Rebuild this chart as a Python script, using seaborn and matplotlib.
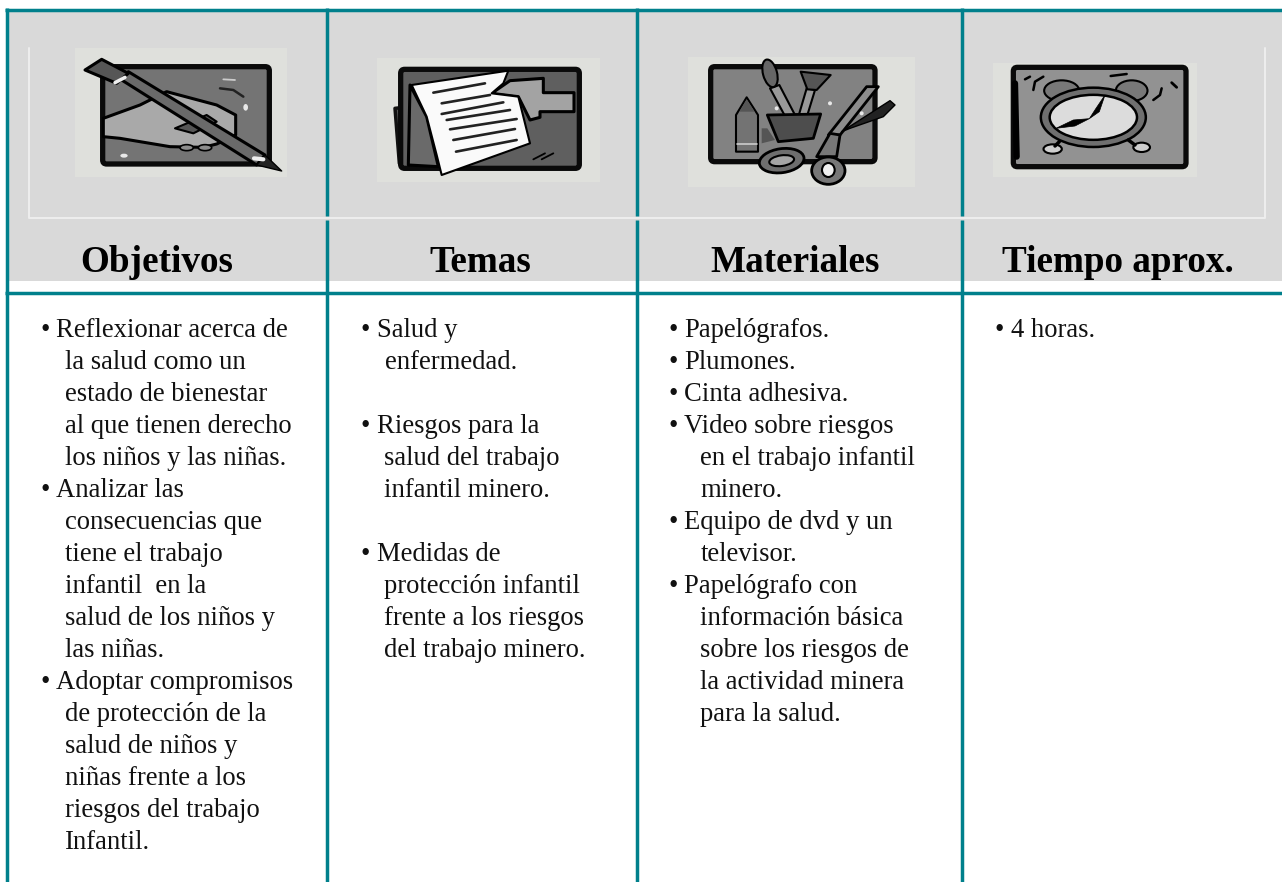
import matplotlib
matplotlib.use('Agg')
import matplotlib.pyplot as plt
from matplotlib.patches import Rectangle, Polygon, Ellipse, FancyBboxPatch
import pandas as pd
import seaborn as sns

# Contenido de la tabla
headers = ['Objetivos', 'Temas', 'Materiales', 'Tiempo aprox.']

objetivos = ['• Reflexionar acerca de', 'la salud como un', 'estado de bienestar',
             'al que tienen derecho', 'los niños y las niñas.', '• Analizar las',
             'consecuencias que', 'tiene el trabajo', 'infantil  en la',
             'salud de los niños y', 'las niñas.', '• Adoptar compromisos',
             'de protección de la', 'salud de niños y', 'niñas frente a los',
             'riesgos del trabajo', 'Infantil.']
temas = ['• Salud y', 'enfermedad.', '', '• Riesgos para la', 'salud del trabajo',
         'infantil minero.', '', '• Medidas de', 'protección infantil',
         'frente a los riesgos', 'del trabajo minero.']
materiales = ['• Papelógrafos.', '• Plumones.', '• Cinta adhesiva.', '• Video sobre riesgos',
              'en el trabajo infantil', 'minero.', '• Equipo de dvd y un', 'televisor.',
              '• Papelógrafo con', 'información básica', 'sobre los riesgos de',
              'la actividad minera', 'para la salud.']
tiempo = ['• 4 horas.']
columns = [objetivos, temas, materiales, tiempo]

TEAL = '#00808c'
GRAY = '#d9d9d9'
LIGHT = '#dfe0dc'
W, H = 1282, 882


def rules_table():
    # x, y de cada filete de la tabla
    segs = {'top': ([5, W], [9.5, 9.5]), 'mid': ([5, W], [293, 293]),
            'v0': ([6.5, 6.5], [8, H]),
            'v1a': ([326.5, 326.5], [8, 215.5]), 'v1b': ([326.5, 326.5], [220, H]),
            'v2a': ([636.5, 636.5], [8, 215.5]), 'v2b': ([636.5, 636.5], [220, H]),
            'v3a': ([961.5, 961.5], [8, 215.5]), 'v3b': ([961.5, 961.5], [220, H])}
    rows = []
    for name, (xs, ys) in segs.items():
        for x, y in zip(xs, ys):
            rows.append({'rule': name, 'x': x, 'y': y})
    return pd.DataFrame(rows)


def mapper(ox, oy):
    # las coordenadas de los iconos se tomaron del recorte ampliado 3x
    return lambda pts: [(ox + a / 3, oy + b / 3) for a, b in pts]


def poly(ax, m, pts, fc, ec='black', lw=1.5, z=3):
    ax.add_patch(Polygon(m(pts), closed=True, fc=fc, ec=ec, lw=lw, joinstyle='round', zorder=z))


def ell(ax, m, cx, cy, w, h, fc, ec='black', lw=1.5, ang=0, z=3):
    (x, y), = m([(cx, cy)])
    ax.add_patch(Ellipse((x, y), w / 3, h / 3, angle=ang, fc=fc, ec=ec, lw=lw, zorder=z))


def stroke(ax, m, pts, lw=1.5, color='black', z=4):
    xs, ys = zip(*m(pts))
    ax.plot(xs, ys, color=color, lw=lw, solid_capstyle='round', zorder=z)


def frame(ax, m, x0, y0, x1, y1, fc, lw=3.8):
    (a, b), (c, d) = m([(x0, y0), (x1, y1)])
    ax.add_patch(FancyBboxPatch((a + 4, b + 4), c - a - 8, d - b - 8, boxstyle='round,pad=4',
                                fc=fc, ec='#0a0a0a', lw=lw, zorder=2))


def light_bg(ax, m, x0, y0, x1, y1):
    (a, b), (c, d) = m([(x0, y0), (x1, y1)])
    ax.add_patch(Rectangle((a, b), c - a, d - b, fc=LIGHT, ec='none', zorder=1))


def icon_pencil(ax):
    m = mapper(60, 40)
    light_bg(ax, m, 45, 25, 680, 410)
    frame(ax, m, 128, 80, 628, 372, '#747474')
    poly(ax, m, [(130, 235), (240, 195), (320, 155), (470, 195), (527, 225), (527, 285),
                 (470, 312), (430, 322), (330, 320), (180, 295), (130, 290)], '#a9a9a9', lw=2.2, z=3)
    poly(ax, m, [(345, 265), (440, 225), (470, 245), (400, 280)], '#555555', z=3)
    ell(ax, m, 380, 323, 40, 18, '#8c8c8c', lw=1.2, z=3)
    ell(ax, m, 435, 323, 40, 18, '#8c8c8c', lw=1.2, z=3)
    stroke(ax, m, [(490, 118), (525, 120)], lw=1.3, color='#cccccc')
    stroke(ax, m, [(480, 145), (520, 150), (550, 170)], lw=1.8, color='#222222')
    poly(ax, m, [(185, 120), (205, 95), (615, 345), (590, 375)], '#6a6a6a', lw=2.2, z=4)
    poly(ax, m, [(75, 90), (125, 58), (205, 100), (170, 130)], '#565656', lw=2.2, z=4)
    poly(ax, m, [(590, 375), (615, 345), (665, 393)], '#222222', lw=1, z=5)
    stroke(ax, m, [(165, 128), (195, 112)], lw=2.5, color='#eeeeee', z=5)
    stroke(ax, m, [(582, 355), (610, 358)], lw=3, color='#eeeeee', z=6)
    ell(ax, m, 557, 202, 14, 20, '#e8e8e8', ec='none', lw=0)
    ell(ax, m, 192, 347, 22, 12, '#e8e8e8', ec='none', lw=0)


def icon_paper(ax):
    m = mapper(370, 40)
    light_bg(ax, m, 20, 55, 690, 425)
    poly(ax, m, [(75, 205), (120, 200), (120, 380), (88, 370)], '#555555', ec='#111111', lw=2.5, z=1.5)
    frame(ax, m, 92, 88, 628, 385, '#5f5f5f')
    poly(ax, m, [(120, 135), (115, 375), (205, 380), (170, 230)], '#6a6a6a', ec='black', lw=2.2)
    poly(ax, m, [(365, 160), (420, 122), (520, 115), (520, 158), (612, 158), (612, 215),
                 (510, 215), (510, 232), (480, 240), (445, 170)], '#a3a3a3', lw=2.2)
    poly(ax, m, [(125, 135), (415, 92), (400, 130), (365, 160), (445, 170), (480, 310),
                 (215, 405), (200, 345), (170, 230)], '#fafafa', lw=1.5, z=4)
    text_lines = [[(190, 158), (345, 130)], [(215, 190), (360, 165)], [(215, 222), (400, 187)],
                  [(230, 240), (420, 210)], [(240, 268), (440, 237)], [(250, 300), (435, 267)],
                  [(258, 335), (440, 300)]]
    for seg in text_lines:
        stroke(ax, m, seg, lw=1.9, color='#222222', z=5)
    stroke(ax, m, [(490, 358), (525, 340)], lw=1.3)
    stroke(ax, m, [(515, 358), (550, 340)], lw=1.3)


def icon_tools(ax):
    m = mapper(680, 40)
    light_bg(ax, m, 25, 50, 705, 440)
    frame(ax, m, 92, 80, 585, 365, '#828282')
    # marcador
    poly(ax, m, [(168, 225), (200, 172), (234, 225), (234, 335), (168, 335)], '#737373', lw=1.5)
    poly(ax, m, [(178, 215), (200, 178), (224, 215)], '#555555', ec='none', lw=0)
    stroke(ax, m, [(170, 312), (232, 312)], lw=1.2, color='#cccccc')
    # pinceles
    poly(ax, m, [(316, 230), (270, 145), (298, 135), (345, 225)], '#999999', lw=1.5)
    ell(ax, m, 270, 100, 42, 85, '#666666', lw=1.5, ang=-15)
    poly(ax, m, [(355, 230), (380, 145), (405, 150), (380, 232)], '#999999', lw=1.5)
    poly(ax, m, [(362, 95), (452, 105), (410, 150), (382, 148)], '#555555', lw=1.5)
    # vaso
    poly(ax, m, [(262, 225), (422, 222), (400, 295), (295, 305)], '#4d4d4d', lw=2, z=4)
    poly(ax, m, [(245, 265), (262, 265), (285, 300), (245, 310)], '#555555', ec='none', lw=0)
    # tijeras
    poly(ax, m, [(445, 285), (560, 140), (595, 140), (480, 285)], '#8c8c8c', lw=2, z=4)
    poly(ax, m, [(485, 275), (630, 182), (645, 195), (610, 230), (510, 265)], '#222222', lw=1, z=4)
    poly(ax, m, [(410, 350), (450, 280), (480, 285), (470, 350)], '#777777', lw=2, z=4)
    ell(ax, m, 305, 362, 135, 72, '#6e6e6e', lw=2, ang=-8, z=5)
    ell(ax, m, 305, 362, 75, 32, '#a5a5a5', lw=1.5, ang=-8, z=6)
    ell(ax, m, 445, 392, 100, 82, '#777777', lw=2, z=5)
    ell(ax, m, 445, 390, 38, 42, '#f0f0f0', lw=1.5, z=6)
    for a, b in [(450, 190), (545, 220), (290, 205)]:
        ell(ax, m, a, b, 12, 12, '#e8e8e8', ec='none', lw=0, z=6)


def icon_clock(ax):
    m = mapper(980, 40)
    light_bg(ax, m, 40, 70, 650, 410)
    frame(ax, m, 100, 82, 618, 380, '#929292')
    stroke(ax, m, [(105, 130), (110, 350)], lw=4.5, z=3)
    ell(ax, m, 245, 152, 105, 62, '#787878', lw=1.5)
    ell(ax, m, 455, 152, 95, 62, '#787878', lw=1.5)
    ell(ax, m, 340, 232, 315, 178, '#6f6f6f', lw=1.8, z=4)
    ell(ax, m, 340, 232, 262, 135, '#dcdcdc', lw=1.8, z=5)
    poly(ax, m, [(228, 265), (280, 240), (328, 236), (285, 258)], 'black', lw=0.5, z=6)
    poly(ax, m, [(328, 236), (348, 205), (375, 165), (358, 215)], 'black', lw=0.5, z=6)
    ell(ax, m, 218, 327, 55, 28, '#cfcfcf', lw=1.5)
    ell(ax, m, 485, 322, 50, 28, '#cfcfcf', lw=1.5)
    stroke(ax, m, [(238, 305), (225, 318)], lw=2.5)
    stroke(ax, m, [(445, 300), (465, 315)], lw=2.5)
    stroke(ax, m, [(392, 108), (440, 102)], lw=1.8)
    stroke(ax, m, [(135, 118), (150, 110)], lw=1.8)
    stroke(ax, m, [(160, 150), (165, 125), (190, 110)], lw=1.8)
    stroke(ax, m, [(520, 180), (540, 165), (545, 145)], lw=1.8)
    stroke(ax, m, [(575, 128), (590, 142)], lw=2)


sns.set_theme(style='white')
plt.rcParams['font.family'] = ['Liberation Serif', 'DejaVu Serif']

fig = plt.figure(figsize=(W / 100, H / 100), dpi=100)
ax = fig.add_axes([0, 0, 1, 1])

# Fondo gris de la cabecera
ax.add_patch(Rectangle((8, 11), W - 8, 270, fc=GRAY, ec='none', zorder=0))

# Marco blanco detras de los iconos
white_x, white_y = [28.5, 28.5, 1264.5, 1264.5], [48, 218, 218, 48]
ax.plot(white_x, white_y, color='#eeeeee', lw=1.4, zorder=0.5)

sns.lineplot(data=rules_table(), x='x', y='y', units='rule', estimator=None, sort=False,
             color=TEAL, linewidth=2.5, solid_capstyle='butt', legend=False, ax=ax, zorder=7)

icon_pencil(ax)
icon_paper(ax)
icon_tools(ax)
icon_clock(ax)

# Titulos
header_x = [157, 480.5, 795.5, 1118]
for name, x in zip(headers, header_x):
    ax.text(x, 272.5, name, ha='center', va='baseline', fontsize=26.7, fontweight='bold',
            color='black', zorder=8)

# Listas de cada columna
bullet_x = [40, 361, 669, 995]
text_x = [56.5, 377, 684, 1011]
cont_x = [65, 384.5, 700.5, 1020]
first_base = 337
pitch = 32
for j, lines in enumerate(columns):
    for i, line in enumerate(lines):
        y = first_base + i * pitch
        if line.startswith('• '):
            ax.text(bullet_x[j], y, '•', ha='left', va='baseline', fontsize=19.2, color='#111111')
            ax.text(text_x[j], y, line[2:], ha='left', va='baseline', fontsize=19.2, color='#111111')
        elif line:
            ax.text(cont_x[j], y, line, ha='left', va='baseline', fontsize=19.2, color='#111111')

ax.set_xlim(0, W)
ax.set_ylim(H, 0)
ax.axis('off')
fig.savefig('out.png', dpi=100, facecolor='white')
